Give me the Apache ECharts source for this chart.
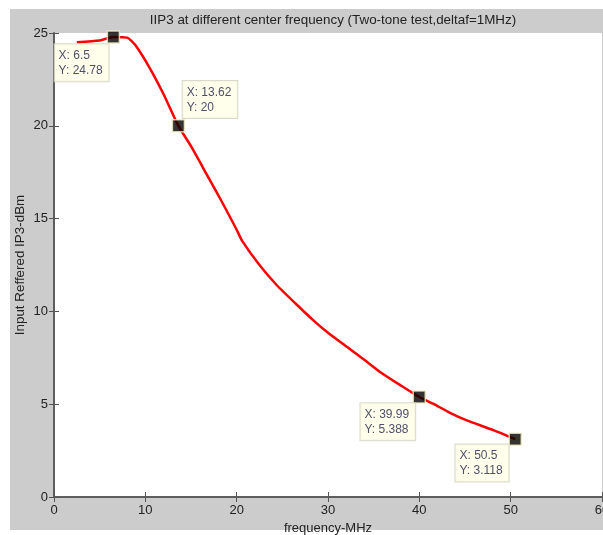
<!DOCTYPE html>
<html>
<head>
<meta charset="utf-8">
<script src="https://cdn.jsdelivr.net/npm/echarts@6/dist/echarts.min.js"></script>
<style>
html,body{margin:0;padding:0;background:#fff;overflow:hidden;}
#chart{width:603px;height:535px;}
</style>
</head>
<body>
<div id="chart"></div>
<script>
// Curve samples
const freqMHz = [2.5, 5, 6.5, 8, 8.9, 10.5, 12, 13.62, 15, 16.7, 18.5, 20, 20.6, 22.5, 24.4, 26.5, 28.4, 30, 32.1, 34, 35.7, 38, 39.99, 41.5, 43.3, 45.2, 48.1, 50.5];
const iip3dBm = [24.5, 24.6, 24.78, 24.75, 24.35, 23.1, 21.7, 20.0, 18.9, 17.4, 15.8, 14.4, 13.8, 12.5, 11.41, 10.4, 9.52, 8.85, 8.08, 7.38, 6.74, 6.0, 5.388, 5.03, 4.55, 4.13, 3.6, 3.118];
// Data tips
const tipX = [6.5, 13.62, 39.99, 50.5];
const tipY = [24.78, 20, 5.388, 3.118];
const tipXLabel = ['6.5', '13.62', '39.99', '50.5'];
const tipYLabel = ['24.78', '20', '5.388', '3.118'];
const xTicks = [0, 10, 20, 30, 40, 50, 60];
const yTicks = [0, 5, 10, 15, 20, 25];

const tipPos = [[-52, 14], [11, -38], [-52, 13], [-53, 12]];

const chart = echarts.init(document.getElementById('chart'), null, {renderer: 'canvas', width: 603, height: 535});
const font = 'Liberation Sans, Arial, sans-serif';
const axisCol = '#555555';
const tickLabel = {color: '#222', fontSize: 13, fontFamily: font};

const tipData = tipX.map((x, i) => ({
  value: [x, tipY[i]],
  label: {
    show: true,
    position: tipPos[i],
    formatter: 'X: ' + tipXLabel[i] + '\nY: ' + tipYLabel[i],
    backgroundColor: '#ffffe6',
    borderColor: '#d0d0c0',
    borderWidth: 1,
    padding: [4, 6, 3, 4],
    color: '#20204a',
    fontSize: 12,
    lineHeight: 15,
    fontFamily: font,
    align: 'left',
    verticalAlign: 'top'
  }
}));

chart.setOption({
  animation: false,
  backgroundColor: '#ffffff',
  graphic: [{
    type: 'rect', z: -10, silent: true,
    shape: {x: 10, y: 9, width: 593, height: 521},
    style: {fill: '#cccccc'}
  }],
  title: {
    text: 'IIP3 at different center frequency (Two-tone test,deltaf=1MHz)',
    left: 328, top: 9, textAlign: 'center',
    textStyle: {color: '#222', fontSize: 13.4, fontWeight: 'normal', fontFamily: font}
  },
  grid: {left: 54, top: 33, right: 1, bottom: 38, show: true, backgroundColor: '#ffffff', borderWidth: 0, containLabel: false, outerBoundsMode: 'none'},
  xAxis: [{
    type: 'value', min: 0, max: 60, interval: 10, position: 'bottom',
    name: 'frequency-MHz', nameLocation: 'middle', nameGap: 23,
    nameTextStyle: {color: '#222', fontSize: 13, fontFamily: font},
    axisLine: {lineStyle: {color: axisCol, width: 1.5}},
    axisTick: {inside: true, length: 5, lineStyle: {color: axisCol}},
    axisLabel: Object.assign({margin: 7, showMaxLabel: true}, tickLabel),
    splitLine: {show: false}
  }, {
    type: 'value', min: 0, max: 60, interval: 10, position: 'top',
    axisLine: {show: true, lineStyle: {color: axisCol, width: 1.5}},
    axisTick: {inside: true, length: 5, lineStyle: {color: axisCol}},
    axisLabel: {show: false}, splitLine: {show: false}
  }],
  yAxis: [{
    type: 'value', min: 0, max: 25, interval: 5, position: 'left',
    name: 'Input Reffered IP3-dBm', nameLocation: 'middle', nameGap: 27, nameRotate: 90,
    nameMoveOverlap: false,
    nameTextStyle: {color: '#222', fontSize: 13.4, fontFamily: font},
    axisLine: {show: true, lineStyle: {color: axisCol, width: 1.5}},
    axisTick: {show: true, inside: true, length: 5, lineStyle: {color: axisCol}},
    axisLabel: Object.assign({margin: 6}, tickLabel),
    splitLine: {show: false}
  }, {
    type: 'value', min: 0, max: 25, interval: 5, position: 'right',
    axisLine: {show: true, lineStyle: {color: axisCol, width: 1.5}},
    axisTick: {show: true, inside: true, length: 5, lineStyle: {color: axisCol}},
    axisLabel: {show: false}, splitLine: {show: false}
  }],
  series: [{
    type: 'line',
    data: freqMHz.map((x, i) => [x, iip3dBm[i]]),
    showSymbol: false,
    smooth: 0.2,
    lineStyle: {color: '#ff0000', width: 2.5},
    z: 2
  }, {
    type: 'scatter',
    data: tipData,
    symbol: 'rect',
    symbolSize: 12,
    itemStyle: {color: '#000000', borderColor: '#f3efc4', borderWidth: 1.5},
    z: 5
  }]
});
</script>
</body>
</html>
